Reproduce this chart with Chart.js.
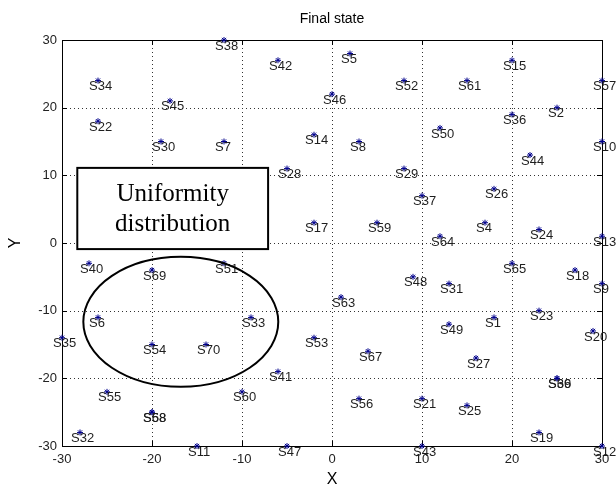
<!DOCTYPE html>
<html lang="en">
    <head>
        <meta charset="UTF-8" />
        <title>Final state</title>
        <script src="https://cdn.jsdelivr.net/npm/chart.js@4.4.1/dist/chart.umd.min.js"></script>
        <style>
            body {
                margin: 0;
                background: #fff;
            }
            #stateChart {
                display: block;
            }
        </style>
    </head>
    <body>
        <canvas id="stateChart" width="616" height="489"></canvas>
        <script>
            // Sensor names and final positions
            const sensorNames = [
                'S1', 'S2', 'S4', 'S5', 'S6', 'S7', 'S8', 'S9', 'S10', 'S11',
                'S12', 'S13', 'S14', 'S15', 'S17', 'S18', 'S19', 'S20', 'S21', 'S22',
                'S23', 'S24', 'S25', 'S26', 'S27', 'S28', 'S29', 'S30', 'S31', 'S32',
                'S33', 'S34', 'S35', 'S36', 'S37', 'S38', 'S39', 'S40', 'S41', 'S42',
                'S43', 'S44', 'S45', 'S46', 'S47', 'S48', 'S49', 'S50', 'S51', 'S52',
                'S53', 'S54', 'S55', 'S56', 'S57', 'S58', 'S59', 'S60', 'S61', 'S63',
                'S64', 'S65', 'S66', 'S67', 'S68', 'S69', 'S70'
            ];
            const sensorX = [
                18, 25, 17, 2, -26, -12, 3, 30, 30, -15,
                30, 30, -2, 20, -2, 27, 23, 29, 10, -26,
                23, 23, 15, 18, 16, -5, 8, -19, 13, -28,
                -9, -26, -30, 20, 10, -12, 25, -27, -6, -6,
                10, 22, -18, 0, -5, 9, 13, 12, -12, 8,
                -2, -20, -25, 3, 30, -20, 5, -10, 15, 1,
                12, 20, 25, 4, -20, -20, -14
            ];
            const sensorY = [
                -11, 20, 3, 28, -11, 15, 15, -6, 15, -30,
                -30, 1, 16, 27, 3, -4, -28, -13, -23, 18,
                -10, 2, -24, 8, -17, 11, 11, 15, -6, -28,
                -11, 24, -14, 19, 7, 30, -20, -3, -19, 27,
                -30, 13, 21, 22, -30, -5, -12, 17, -3, 24,
                -14, -15, -22, -23, 24, -25, 3, -22, 24, -8,
                1, -3, -20, -16, -25, -4, -15
            ];

            // Axis limits and tick step
            const axisMin = -30;
            const axisMax = 30;
            const tickStep = 10;

            // Annotations (data units)
            const chartTitle = 'Final state';
            const noteLines = ['Uniformity', 'distribution'];
            const noteBoxX = [-28.3, -7.1];
            const noteBoxY = [-0.9, 11.1];
            const ringCenter = [-16.8, -11.65];
            const ringRadius = [10.83, 9.6];

            const sansFont = '"Liberation Sans", Arial, Helvetica, sans-serif';
            const points = sensorX.map((x, i) => ({ x, y: sensorY[i] }));

            Chart.register({
                id: 'matlabAxes',
                beforeDatasetsDraw(chart) {
                    const { ctx, chartArea: a, scales } = chart;
                    const xs = scales.x, ys = scales.y;
                    ctx.save();
                    // title, centred over the plot box
                    ctx.fillStyle = '#000';
                    ctx.font = '14px ' + sansFont;
                    ctx.textAlign = 'center';
                    ctx.textBaseline = 'middle';
                    ctx.fillText(chartTitle, (a.left + a.right) / 2, a.top - 21);
                    // dotted grid
                    ctx.strokeStyle = '#333';
                    ctx.lineWidth = 1;
                    ctx.setLineDash([1, 3]);
                    for (let v = axisMin + tickStep; v < axisMax; v += tickStep) {
                        const px = Math.round(xs.getPixelForValue(v)) + 0.5;
                        ctx.beginPath();
                        ctx.moveTo(px, a.top);
                        ctx.lineTo(px, a.bottom);
                        ctx.stroke();
                        const py = Math.round(ys.getPixelForValue(v)) + 0.5;
                        ctx.beginPath();
                        ctx.moveTo(a.left, py);
                        ctx.lineTo(a.right, py);
                        ctx.stroke();
                    }
                    // box and inward ticks
                    ctx.setLineDash([]);
                    ctx.strokeStyle = '#000';
                    ctx.strokeRect(Math.round(a.left) + 0.5, Math.round(a.top) + 0.5,
                        Math.round(a.right - a.left), Math.round(a.bottom - a.top));
                    ctx.beginPath();
                    for (let v = axisMin; v <= axisMax; v += tickStep) {
                        const px = Math.round(xs.getPixelForValue(v)) + 0.5;
                        ctx.moveTo(px, a.bottom); ctx.lineTo(px, a.bottom - 5);
                        ctx.moveTo(px, a.top); ctx.lineTo(px, a.top + 5);
                        const py = Math.round(ys.getPixelForValue(v)) + 0.5;
                        ctx.moveTo(a.left, py); ctx.lineTo(a.left + 5, py);
                        ctx.moveTo(a.right, py); ctx.lineTo(a.right - 5, py);
                    }
                    ctx.stroke();
                    ctx.restore();
                },
                afterDatasetsDraw(chart) {
                    const { ctx, scales } = chart;
                    const xs = scales.x, ys = scales.y;
                    ctx.save();

                    // sensor names
                    ctx.font = '13px ' + sansFont;
                    ctx.fillStyle = '#1e1e1e';
                    ctx.textAlign = 'left';
                    ctx.textBaseline = 'middle';
                    sensorNames.forEach((name, i) => {
                        const px = xs.getPixelForValue(sensorX[i]);
                        const py = ys.getPixelForValue(sensorY[i]);
                        ctx.fillText(name, px - 9, py + 6);
                    });

                    // text box
                    const bx1 = xs.getPixelForValue(noteBoxX[0]);
                    const bx2 = xs.getPixelForValue(noteBoxX[1]);
                    const by1 = ys.getPixelForValue(noteBoxY[1]);
                    const by2 = ys.getPixelForValue(noteBoxY[0]);
                    ctx.fillStyle = '#fff';
                    ctx.fillRect(bx1, by1, bx2 - bx1, by2 - by1);
                    ctx.strokeStyle = '#000';
                    ctx.lineWidth = 2;
                    ctx.strokeRect(bx1, by1, bx2 - bx1, by2 - by1);
                    ctx.fillStyle = '#000';
                    ctx.font = '25px "Liberation Serif", "Times New Roman", serif';
                    ctx.textAlign = 'center';
                    ctx.textBaseline = 'alphabetic';
                    const cx = (bx1 + bx2) / 2;
                    const cy = (by1 + by2) / 2;
                    ctx.fillText(noteLines[0], cx, cy - 7);
                    ctx.fillText(noteLines[1], cx, cy + 23);

                    // ellipse
                    const ex = xs.getPixelForValue(ringCenter[0]);
                    const ey = ys.getPixelForValue(ringCenter[1]);
                    const rx = Math.abs(xs.getPixelForValue(ringCenter[0] + ringRadius[0]) - ex);
                    const ry = Math.abs(ys.getPixelForValue(ringCenter[1] + ringRadius[1]) - ey);
                    ctx.beginPath();
                    ctx.ellipse(ex, ey, rx, ry, 0, 0, Math.PI * 2);
                    ctx.stroke();

                    ctx.restore();
                }
            });

            const ctx = document.getElementById('stateChart').getContext('2d');
            new Chart(ctx, {
                type: 'scatter',
                data: {
                    datasets: [{
                        label: 'Sensors',
                        data: points,
                        pointStyle: 'star',
                        pointRadius: 3,
                        borderWidth: 1,
                        borderColor: '#00008b',
                        backgroundColor: '#00008b',
                        clip: false
                    }]
                },
                options: {
                    responsive: false,
                    animation: false,
                    layout: { padding: { left: 0, right: 14, top: 40, bottom: 0 } },
                    plugins: {
                        legend: { display: false },
                        tooltip: { enabled: false },
                        title: { display: false }
                    },
                    scales: {
                        x: {
                            type: 'linear',
                            min: axisMin,
                            max: axisMax,
                            grid: { display: false, drawTicks: false },
                            border: { display: false },
                            ticks: {
                                stepSize: tickStep,
                                autoSkip: false,
                                maxRotation: 0,
                                padding: 6,
                                color: '#222',
                                font: { family: sansFont, size: 13 }
                            },
                            title: {
                                display: true,
                                text: 'X',
                                color: '#000',
                                font: { family: sansFont, size: 16 },
                                padding: { top: 0, bottom: 0 }
                            },
                            afterFit(scale) { scale.height = 43; }
                        },
                        y: {
                            type: 'linear',
                            min: axisMin,
                            max: axisMax,
                            grid: { display: false, drawTicks: false },
                            border: { display: false },
                            ticks: {
                                stepSize: tickStep,
                                autoSkip: false,
                                padding: 5,
                                color: '#222',
                                font: { family: sansFont, size: 13 }
                            },
                            title: {
                                display: true,
                                text: 'Y',
                                color: '#000',
                                font: { family: sansFont, size: 16 },
                                padding: { top: 6, bottom: 0 }
                            },
                            afterFit(scale) { scale.width = 62; }
                        }
                    }
                }
            });
        </script>
    </body>
</html>
